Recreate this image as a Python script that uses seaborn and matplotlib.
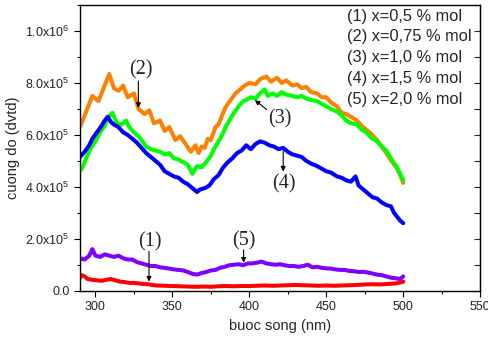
import pandas as pd
import matplotlib
matplotlib.use("Agg")
import matplotlib.pyplot as plt
import seaborn as sns
from matplotlib.ticker import MultipleLocator

# --- data: wavelength (nm) and intensity in units of 1e5 ---
nm_1 = [290, 291, 293, 295, 298, 301, 304, 307, 310, 313, 316, 319, 322, 325, 328,
        331, 334, 337, 340, 345, 350, 355, 360, 365, 370, 375, 380, 385, 390, 395,
        400, 405, 410, 415, 420, 425, 430, 435, 440, 445, 450, 455, 460, 465, 470,
        475, 480, 485, 490, 495, 498, 500]
val_1 = [0.50, 0.60, 0.55, 0.45, 0.42, 0.40, 0.38, 0.42, 0.45, 0.40, 0.35, 0.33, 0.30, 0.30, 0.28,
         0.26, 0.25, 0.22, 0.20, 0.19, 0.18, 0.17, 0.16, 0.15, 0.16, 0.15, 0.17, 0.18, 0.17, 0.18,
         0.18, 0.19, 0.20, 0.19, 0.20, 0.21, 0.22, 0.21, 0.20, 0.19, 0.20, 0.19, 0.20, 0.21, 0.22,
         0.24, 0.25, 0.24, 0.26, 0.28, 0.32, 0.35]

nm_2 = [290, 294, 298, 302, 306, 309, 312, 315, 318, 321, 325, 328, 332, 335, 338,
        342, 345, 348, 352, 355, 358, 362, 365, 367, 369, 371, 373, 375, 378, 380,
        382, 384, 386, 388, 391, 394, 397, 400, 404, 407, 411, 414, 418, 421, 424,
        428, 431, 434, 437, 440, 444, 447, 450, 453, 457, 460, 463, 466, 470, 473,
        476, 479, 483, 486, 489, 491, 493, 496, 498, 500]
val_2 = [6.30, 6.90, 7.50, 7.30, 7.90, 8.35, 7.80, 7.70, 7.90, 7.45, 7.60, 7.00, 6.80, 6.95, 6.45,
         6.55, 6.15, 6.30, 5.80, 5.95, 5.70, 5.35, 5.60, 5.30, 5.55, 5.50, 5.85, 5.80, 6.30, 6.40,
         6.70, 7.00, 7.20, 7.35, 7.60, 7.75, 7.90, 8.00, 7.95, 8.15, 8.25, 8.05, 8.20, 8.00, 8.10,
         7.90, 7.95, 7.80, 7.85, 7.65, 7.60, 7.45, 7.45, 7.25, 7.10, 6.85, 6.80, 6.70, 6.55, 6.35,
         6.20, 6.05, 5.80, 5.55, 5.30, 5.10, 4.95, 4.70, 4.45, 4.15]

nm_3 = [290, 292, 294, 297, 300, 303, 306, 308, 311, 314, 317, 320, 322, 325, 328,
        330, 333, 336, 339, 342, 345, 348, 351, 354, 357, 360, 363, 366, 369, 372,
        375, 377, 380, 382, 385, 387, 390, 393, 396, 398, 401, 404, 407, 410, 412,
        415, 418, 421, 424, 428, 431, 434, 437, 440, 444, 447, 450, 453, 457, 460,
        463, 466, 470, 473, 476, 479, 483, 486, 489, 491, 493, 496, 498, 500]
val_3 = [4.60, 4.80, 5.10, 5.50, 5.75, 6.10, 6.35, 6.65, 6.85, 6.45, 6.40, 6.55, 6.30, 6.10, 5.95,
         5.80, 5.55, 5.45, 5.40, 5.35, 5.25, 5.30, 5.10, 5.05, 4.95, 4.85, 4.50, 4.80, 4.75, 4.95,
         5.20, 5.45, 5.75, 5.95, 6.35, 6.55, 6.85, 7.10, 7.30, 7.35, 7.45, 7.40, 7.60, 7.75, 7.50,
         7.60, 7.50, 7.65, 7.55, 7.50, 7.45, 7.50, 7.40, 7.35, 7.30, 7.20, 7.10, 7.00, 6.90, 6.75,
         6.55, 6.45, 6.40, 6.20, 6.10, 5.90, 5.75, 5.55, 5.40, 5.20, 5.00, 4.75, 4.50, 4.25]

nm_4 = [290, 293, 296, 298, 301, 304, 306, 308, 310, 312, 315, 318, 321, 324, 327,
        330, 333, 336, 339, 342, 345, 348, 351, 354, 357, 360, 363, 366, 368, 371,
        374, 377, 380, 383, 386, 389, 392, 395, 398, 401, 404, 407, 410, 413, 416,
        419, 422, 425, 428, 431, 434, 437, 440, 444, 447, 450, 453, 457, 460, 463,
        466, 469, 471, 474, 477, 480, 483, 486, 489, 492, 494, 496, 498, 500]
val_4 = [5.15, 5.35, 5.60, 5.85, 6.10, 6.35, 6.55, 6.70, 6.50, 6.40, 6.30, 6.10, 6.00, 5.85, 5.70,
         5.50, 5.30, 5.15, 5.00, 4.85, 4.60, 4.50, 4.40, 4.35, 4.20, 4.10, 3.95, 3.80, 3.90, 3.95,
         4.05, 4.30, 4.45, 4.75, 4.95, 5.10, 5.30, 5.40, 5.60, 5.45, 5.65, 5.75, 5.70, 5.60, 5.55,
         5.45, 5.50, 5.35, 5.25, 5.20, 5.15, 5.00, 4.90, 4.80, 4.70, 4.60, 4.55, 4.40, 4.35, 4.25,
         4.20, 4.40, 4.05, 3.90, 3.75, 3.60, 3.55, 3.40, 3.30, 3.25, 3.00, 2.85, 2.70, 2.60]

nm_5 = [290, 293, 296, 298, 300, 303, 306, 309, 312, 315, 318, 321, 324, 327, 330,
        333, 336, 339, 342, 345, 348, 351, 354, 357, 360, 363, 366, 369, 372, 375,
        378, 381, 384, 387, 390, 393, 396, 399, 402, 405, 408, 411, 414, 417, 420,
        423, 426, 429, 432, 435, 438, 441, 444, 447, 450, 453, 456, 459, 462, 465,
        468, 471, 474, 477, 480, 483, 486, 489, 492, 495, 498, 500]
val_5 = [1.25, 1.20, 1.35, 1.60, 1.35, 1.30, 1.40, 1.35, 1.30, 1.35, 1.25, 1.20, 1.20, 1.10, 1.05,
         1.00, 0.95, 0.95, 0.90, 0.88, 0.85, 0.82, 0.80, 0.78, 0.72, 0.65, 0.62, 0.68, 0.72, 0.78,
         0.80, 0.88, 0.92, 0.98, 1.00, 1.02, 0.98, 1.05, 1.05, 1.08, 1.12, 1.05, 1.02, 1.00, 1.02,
         0.98, 0.95, 0.95, 0.92, 0.95, 1.00, 0.90, 0.92, 0.88, 0.86, 0.85, 0.82, 0.80, 0.80, 0.76,
         0.75, 0.72, 0.73, 0.70, 0.66, 0.62, 0.60, 0.55, 0.50, 0.48, 0.45, 0.55]

series_names = ["(1)", "(2)", "(3)", "(4)", "(5)"]
series_colors = ["#ff0000", "#ff8000", "#00ff00", "#0000ff", "#8000ff"]
legend_lines = ["(1) x=0,5 % mol", "(2) x=0,75 % mol", "(3) x=1,0 % mol",
                "(4) x=1,5 % mol", "(5) x=2,0 % mol"]

x_ticks = [300, 350, 400, 450, 500, 550]
y_ticks = [0, 2e5, 4e5, 6e5, 8e5, 1e6]
y_tick_labels = ["0.0", r"$\mathregular{2.0x10^5}$", r"$\mathregular{4.0x10^5}$",
                 r"$\mathregular{6.0x10^5}$", r"$\mathregular{8.0x10^5}$",
                 r"$\mathregular{1.0x10^6}$"]

# build long-form table
frames = []
for name, xs, ys in zip(series_names,
                        [nm_1, nm_2, nm_3, nm_4, nm_5],
                        [val_1, val_2, val_3, val_4, val_5]):
    frames.append(pd.DataFrame({"nm": xs, "cuong_do": [v * 1e5 for v in ys], "mau": name}))
df = pd.concat(frames, ignore_index=True)

sns.set_style("ticks")
plt.rcParams['font.family'] = ['Liberation Sans', 'DejaVu Sans']

fig = plt.figure(figsize=(4.88, 3.39), dpi=100)
ax = fig.add_axes([0.164, 0.1425, 0.82, 0.8425])

sns.lineplot(data=df, x="nm", y="cuong_do", hue="mau", hue_order=series_names,
             palette=series_colors, estimator=None, sort=False, linewidth=2.9,
             legend=False, ax=ax)

ax.set_xlim(290, 550)
ax.set_ylim(0, 1.1e6)
ax.set_xticks(x_ticks)
ax.xaxis.set_minor_locator(MultipleLocator(25))
ax.set_yticks(y_ticks, y_tick_labels)
ax.yaxis.set_minor_locator(MultipleLocator(1e5))
ax.tick_params(which="major", direction="out", length=4, width=0.8, labelsize=9,
               colors="black", labelcolor="#222222")
ax.tick_params(which="minor", direction="out", length=2.5, width=0.8, colors="black")
for s in ax.spines.values():
    s.set_linewidth(1.0)
    s.set_color("black")

# right axis ticks point inward, no labels
sec = ax.secondary_yaxis("right")
sec.set_yticks(y_ticks)
sec.yaxis.set_minor_locator(MultipleLocator(1e5))
sec.tick_params(which="both", direction="in", length=4, width=0.8, labelright=False)

ax.set_xlabel("buoc song (nm)", fontsize=10.5)
ax.set_ylabel("cuong do (dvtd)", fontsize=10.5)

# legend as plain text lines
for i, line in enumerate(legend_lines):
    ax.text(463.4, 10.57e5 - i * 0.797e5, line, fontsize=11.8, ha="left", va="center")

# curve labels with arrows
serif = ["Liberation Serif", "DejaVu Serif"]
labels_pos = {"(1)": (335.5, 1.89e5), "(2)": (329.4, 8.52e5), "(3)": (419.9, 6.63e5),
              "(4)": (422.3, 4.12e5), "(5)": (396.5, 1.92e5)}
arrows = {"(1)": ((334.8, 1.51e5), (334.8, 0.35e5)),
          "(2)": ((327.9, 8.07e5), (327.9, 7.04e5)),
          "(3)": ((411.2, 6.98e5), (403.6, 7.34e5)),
          "(4)": ((422.0, 5.37e5), (422.0, 4.59e5)),
          "(5)": ((396.3, 1.57e5), (396.3, 1.08e5))}
for name in series_names:
    tx, ty = labels_pos[name]
    ax.text(tx, ty, name, fontsize=14.5, family=serif, ha="center", va="center")
    start, tip = arrows[name]
    ax.annotate("", xy=tip, xytext=start,
                arrowprops=dict(arrowstyle="-|>", color="black", lw=0.8,
                                mutation_scale=7, shrinkA=0, shrinkB=0))

fig.savefig("out.png", dpi=100)
